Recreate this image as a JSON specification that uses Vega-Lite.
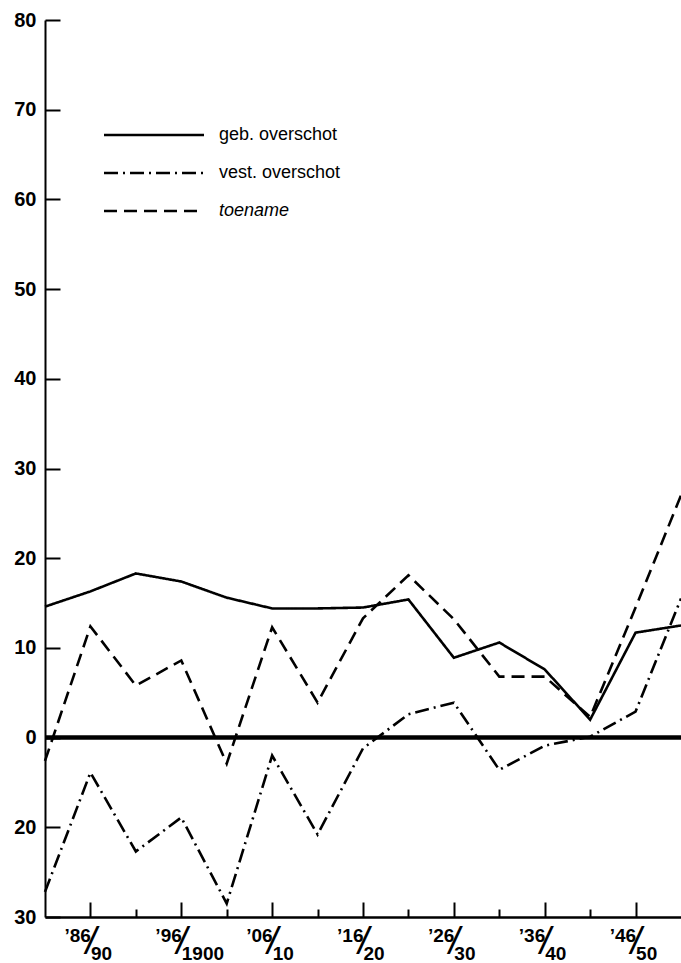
{
  "$schema": "https://vega.github.io/schema/vega-lite/v6.json",
  "width": 636,
  "height": 897,
  "autosize": {"type": "none"},
  "padding": {"left": 45, "top": 20, "right": 0, "bottom": 46},
  "background": "white",
  "config": {
    "view": {"stroke": null},
    "axis": {"labelFont": "Liberation Sans", "labelFontWeight": "bold", "labelColor": "black", "domainColor": "black", "tickColor": "black", "grid": false, "title": null, "labelOverlap": false, "labelBound": false, "labelFlush": false},
    "axisY": {"domainWidth": 2, "tickWidth": 2, "labelFontSize": 20}
  },
  "datasets": {
    "reeks": [
      {"jaar": 1881, "reeks": "geb. overschot", "waarde": 14.6},
      {"jaar": 1886, "reeks": "geb. overschot", "waarde": 16.3},
      {"jaar": 1891, "reeks": "geb. overschot", "waarde": 18.3},
      {"jaar": 1896, "reeks": "geb. overschot", "waarde": 17.4},
      {"jaar": 1901, "reeks": "geb. overschot", "waarde": 15.6},
      {"jaar": 1906, "reeks": "geb. overschot", "waarde": 14.4},
      {"jaar": 1911, "reeks": "geb. overschot", "waarde": 14.4},
      {"jaar": 1916, "reeks": "geb. overschot", "waarde": 14.5},
      {"jaar": 1921, "reeks": "geb. overschot", "waarde": 15.4},
      {"jaar": 1926, "reeks": "geb. overschot", "waarde": 8.9},
      {"jaar": 1931, "reeks": "geb. overschot", "waarde": 10.6},
      {"jaar": 1936, "reeks": "geb. overschot", "waarde": 7.6},
      {"jaar": 1941, "reeks": "geb. overschot", "waarde": 2.0},
      {"jaar": 1946, "reeks": "geb. overschot", "waarde": 11.7},
      {"jaar": 1951, "reeks": "geb. overschot", "waarde": 12.5},
      {"jaar": 1881, "reeks": "vest. overschot", "waarde": -17.2},
      {"jaar": 1886, "reeks": "vest. overschot", "waarde": -3.9},
      {"jaar": 1891, "reeks": "vest. overschot", "waarde": -12.7},
      {"jaar": 1896, "reeks": "vest. overschot", "waarde": -8.9},
      {"jaar": 1901, "reeks": "vest. overschot", "waarde": -18.5},
      {"jaar": 1906, "reeks": "vest. overschot", "waarde": -2.0},
      {"jaar": 1911, "reeks": "vest. overschot", "waarde": -10.8},
      {"jaar": 1916, "reeks": "vest. overschot", "waarde": -1.2},
      {"jaar": 1921, "reeks": "vest. overschot", "waarde": 2.6},
      {"jaar": 1926, "reeks": "vest. overschot", "waarde": 3.9},
      {"jaar": 1931, "reeks": "vest. overschot", "waarde": -3.6},
      {"jaar": 1936, "reeks": "vest. overschot", "waarde": -0.9},
      {"jaar": 1941, "reeks": "vest. overschot", "waarde": 0.1},
      {"jaar": 1946, "reeks": "vest. overschot", "waarde": 2.9},
      {"jaar": 1951, "reeks": "vest. overschot", "waarde": 15.5},
      {"jaar": 1881, "reeks": "toename", "waarde": -2.6},
      {"jaar": 1886, "reeks": "toename", "waarde": 12.4},
      {"jaar": 1891, "reeks": "toename", "waarde": 5.8},
      {"jaar": 1896, "reeks": "toename", "waarde": 8.6},
      {"jaar": 1901, "reeks": "toename", "waarde": -2.9},
      {"jaar": 1906, "reeks": "toename", "waarde": 12.3},
      {"jaar": 1911, "reeks": "toename", "waarde": 3.9},
      {"jaar": 1916, "reeks": "toename", "waarde": 13.3},
      {"jaar": 1921, "reeks": "toename", "waarde": 18.1},
      {"jaar": 1926, "reeks": "toename", "waarde": 13.2},
      {"jaar": 1931, "reeks": "toename", "waarde": 6.8},
      {"jaar": 1936, "reeks": "toename", "waarde": 6.8},
      {"jaar": 1941, "reeks": "toename", "waarde": 2.3},
      {"jaar": 1946, "reeks": "toename", "waarde": 14.5},
      {"jaar": 1951, "reeks": "toename", "waarde": 27.0}
    ]
  },
  "resolve": {"axis": {"x": "independent"}},
  "layer": [
    {
      "data": {"name": "reeks"},
      "transform": [{"filter": "datum.reeks == 'geb. overschot'"}],
      "mark": {"type": "line", "color": "black", "strokeWidth": 2.6},
      "encoding": {
        "x": {"field": "jaar", "type": "quantitative", "scale": {"domain": [1881, 1951], "nice": false, "zero": false},
          "axis": {"orient": "bottom", "values": [1886, 1891, 1896, 1901, 1906, 1911, 1916, 1921, 1926, 1931, 1936, 1941, 1946], "labels": false, "domainWidth": 2.5, "tickWidth": 2, "tickSize": {"condition": {"test": "datum.value % 10 == 6", "value": -15}, "value": -8}}},
        "y": {"field": "waarde", "type": "quantitative", "scale": {"domain": [-20, 80], "nice": false, "zero": false},
          "axis": {"values": [-20, -10, 0, 10, 20, 30, 40, 50, 60, 70, 80], "format": "d", "labelExpr": "datum.value == -10 ? '20' : datum.value == -20 ? '30' : datum.label", "tickSize": -15, "labelPadding": 24}},
        "strokeDash": {"field": "reeks", "type": "nominal",
          "scale": {"domain": ["geb. overschot", "vest. overschot", "toename"], "range": [[1, 0], [14, 5, 2, 5], [13, 7]]},
          "legend": {"orient": "none", "legendX": 95, "legendY": 101, "title": null, "symbolType": "M-4,0H4", "symbolSize": 625, "symbolStrokeWidth": 2.5, "symbolStrokeColor": "black", "labelFont": "Liberation Sans", "labelFontSize": 18, "labelColor": "black", "labelOffset": 51, "rowPadding": 15,
            "encode": {"labels": {"update": {"fontStyle": {"signal": "datum.label == 'toename' ? 'italic' : 'normal'"}}}}}}
      }
    },
    {
      "data": {"name": "reeks"},
      "transform": [{"filter": "datum.reeks == 'vest. overschot'"}],
      "mark": {"type": "line", "color": "black", "strokeWidth": 2.6},
      "encoding": {
        "x": {"field": "jaar", "type": "quantitative",
          "axis": {"orient": "bottom", "values": [1886, 1896, 1906, 1916, 1926, 1936, 1946], "format": "d", "ticks": false, "tickSize": 0, "domain": false, "labelExpr": "'\u2019' + slice(datum.label, 2)", "labelAlign": "right", "labelDx": -10, "labelBaseline": "middle", "labelPadding": 18, "labelFontSize": 19}},
        "y": {"field": "waarde", "type": "quantitative"},
        "strokeDash": {"field": "reeks", "type": "nominal"}
      }
    },
    {
      "data": {"name": "reeks"},
      "transform": [{"filter": "datum.reeks == 'toename'"}],
      "mark": {"type": "line", "color": "black", "strokeWidth": 2.6},
      "encoding": {
        "x": {"field": "jaar", "type": "quantitative",
          "axis": {"orient": "bottom", "values": [1886, 1896, 1906, 1916, 1926, 1936, 1946], "format": "d", "ticks": false, "tickSize": 0, "domain": false, "labelExpr": "'/'", "labelAlign": "center", "labelDx": 3, "labelBaseline": "middle", "labelPadding": 25, "labelFontSize": 38, "labelFontWeight": "normal", "labelFontStyle": "italic"}},
        "y": {"field": "waarde", "type": "quantitative"},
        "strokeDash": {"field": "reeks", "type": "nominal"}
      }
    },
    {
      "data": {"values": [{}]},
      "mark": {"type": "rule", "color": "black", "strokeWidth": 4.5},
      "encoding": {
        "x": {"datum": 1881, "type": "quantitative",
          "axis": {"orient": "bottom", "values": [1886, 1896, 1906, 1916, 1926, 1936, 1946], "format": "d", "ticks": false, "tickSize": 0, "domain": false, "labelExpr": "datum.value == 1896 ? '1900' : slice(format(datum.value + 4, 'd'), 2)", "labelAlign": "left", "labelDx": 14, "labelBaseline": "middle", "labelPadding": 36, "labelFontSize": 19}},
        "x2": {"datum": 1951},
        "y": {"datum": 0, "type": "quantitative"}
      }
    }
  ]
}
